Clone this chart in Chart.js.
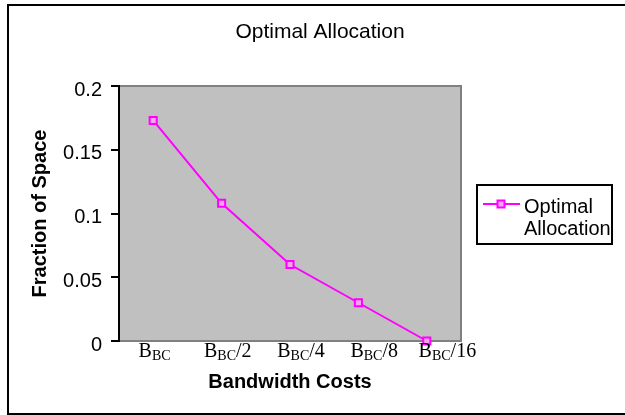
<!DOCTYPE html>
<html>
<head>
<meta charset="utf-8">
<script src="https://cdn.jsdelivr.net/npm/chart.js@4/dist/chart.umd.min.js"></script>
<style>
  html, body { margin: 0; padding: 0; background: #ffffff; }
  #wrap { width: 625px; height: 415px; }
</style>
</head>
<body>
<div id="wrap"><canvas id="c" width="625" height="415"></canvas></div>
<script>
// Categories: base letter, subscript and suffix are split when drawn ("B_BC/2" -> B, BC, /2)
const categories = ['B_BC', 'B_BC/2', 'B_BC/4', 'B_BC/8', 'B_BC/16'];
const seriesName = 'Optimal Allocation';
const seriesLegendLines = ['Optimal', 'Allocation'];
const fractionOfSpace = [0.173, 0.108, 0.060, 0.030, 0.000];
const yTicks = [0, 0.05, 0.1, 0.15, 0.2];
const chartTitle = 'Optimal Allocation';
const xTitle = 'Bandwidth Costs';
const yTitle = 'Fraction of Space';

const SANS = "'Liberation Sans', Arial, sans-serif";
const SERIF = "'Liberation Serif', 'Times New Roman', serif";
const MAGENTA = '#FF00FF';

function splitLabel(s) {
  const m = s.match(/^([^_]*)_([A-Za-z]+)(.*)$/);
  return m ? { base: m[1], sub: m[2], rest: m[3] } : { base: s, sub: '', rest: '' };
}

function drawSquareMarker(ctx, x, y) {
  ctx.save();
  ctx.fillStyle = '#f2a6f2';
  ctx.strokeStyle = MAGENTA;
  ctx.lineWidth = 2;
  ctx.fillRect(x - 3.5, y - 3.5, 7, 7);
  ctx.strokeRect(x - 3.5, y - 3.5, 7, 7);
  ctx.restore();
}

// Page frame, page title and grey plot background
const framePlugin = {
  id: 'frame',
  beforeDraw(chart) {
    const { ctx, chartArea: a } = chart;
    ctx.save();
    ctx.fillStyle = '#ffffff';
    ctx.fillRect(0, 0, chart.width, chart.height);
    ctx.strokeStyle = '#000000';
    ctx.lineWidth = 2;
    ctx.strokeRect(8, 5, 640, 409);

    ctx.fillStyle = '#000000';
    ctx.font = '21px ' + SANS;
    ctx.textAlign = 'center';
    ctx.textBaseline = 'alphabetic';
    ctx.fillText(chartTitle, 320, 37.5);

    ctx.fillStyle = '#C0C0C0';
    ctx.fillRect(a.left, a.top, a.right - a.left, a.bottom - a.top);
    ctx.strokeStyle = '#808080';
    ctx.lineWidth = 2;
    ctx.beginPath();
    ctx.moveTo(a.left, a.top);
    ctx.lineTo(a.right, a.top);
    ctx.lineTo(a.right, a.bottom);
    ctx.stroke();
    ctx.restore();
  }
};

// Category labels with subscripts, placed from the x scale's category positions
const subscriptLabels = {
  id: 'subscriptLabels',
  afterDraw(chart) {
    const { ctx, chartArea: a } = chart;
    const xs = chart.scales.x;
    const mid = (a.left + a.right) / 2;
    const mainFont = '20px ' + SERIF;
    const subFont = '14px ' + SERIF;
    const baseY = a.bottom + 16;
    ctx.save();
    ctx.fillStyle = '#000000';
    ctx.textBaseline = 'alphabetic';
    ctx.textAlign = 'left';
    categories.forEach((c, i) => {
      const p = splitLabel(c);
      ctx.font = mainFont;
      const wBase = ctx.measureText(p.base).width;
      const wRest = ctx.measureText(p.rest).width;
      ctx.font = subFont;
      const wSub = ctx.measureText(p.sub).width;
      const total = wBase + wSub + wRest;
      const cx = mid + 11 + (xs.getPixelForValue(i) - mid) * 1.07;
      let x = cx - total / 2;
      ctx.font = mainFont;
      ctx.fillText(p.base, x, baseY);
      x += wBase;
      ctx.font = subFont;
      ctx.fillText(p.sub, x, baseY + 3);
      x += wSub;
      ctx.font = mainFont;
      ctx.fillText(p.rest, x, baseY);
    });
    ctx.restore();
  }
};

// Boxed legend to the right of the plot
const boxedLegend = {
  id: 'boxedLegend',
  afterDraw(chart) {
    const { ctx } = chart;
    const ds = chart.data.datasets[0];
    const box = { x: 477, y: 185, w: 135, h: 59 };
    ctx.save();
    ctx.strokeStyle = '#000000';
    ctx.lineWidth = 2;
    ctx.strokeRect(box.x, box.y, box.w, box.h);
    ctx.strokeStyle = ds.borderColor;
    ctx.lineWidth = 2;
    ctx.beginPath();
    ctx.moveTo(box.x + 6, box.y + 19);
    ctx.lineTo(box.x + 43, box.y + 19);
    ctx.stroke();
    drawSquareMarker(ctx, box.x + 24, box.y + 19);
    ctx.fillStyle = '#000000';
    ctx.font = '20px ' + SANS;
    ctx.textAlign = 'left';
    ctx.textBaseline = 'alphabetic';
    ctx.fillText(seriesLegendLines[0], box.x + 47, box.y + 28);
    ctx.fillText(seriesLegendLines[1], box.x + 47, box.y + 50);
    ctx.restore();
  }
};

new Chart(document.getElementById('c'), {
  type: 'line',
  data: {
    labels: categories,
    datasets: [{
      label: seriesName,
      data: fractionOfSpace,
      borderColor: MAGENTA,
      borderWidth: 2,
      tension: 0,
      pointStyle: 'rect',
      pointRadius: 5,
      pointBorderWidth: 2,
      pointBorderColor: MAGENTA,
      pointBackgroundColor: '#f2a6f2',
      clip: false
    }]
  },
  options: {
    responsive: false,
    animation: false,
    layout: { padding: { top: 86, right: 164, bottom: 0, left: 0 } },
    plugins: {
      legend: { display: false },
      tooltip: { enabled: false },
      title: { display: false }
    },
    scales: {
      x: {
        type: 'category',
        offset: true,
        grid: { display: false, drawTicks: false },
        border: { display: true, color: '#808080', width: 2 },
        ticks: { display: false },
        title: {
          display: true,
          text: xTitle,
          color: '#000000',
          font: { family: SANS, size: 20, weight: 'bold' },
          padding: { top: 0, bottom: 21 }
        },
        afterFit(scale) { scale.height = 74; }
      },
      y: {
        min: 0,
        max: 0.2,
        afterBuildTicks(scale) { scale.ticks = yTicks.map(v => ({ value: v })); },
        grid: {
          drawOnChartArea: false,
          drawTicks: true,
          tickLength: 8,
          color: '#000000',
          lineWidth: 2
        },
        border: { display: true, color: '#000000', width: 2 },
        ticks: {
          color: '#000000',
          padding: 9,
          labelOffset: 4,
          font: { family: SANS, size: 20 },
          callback: (v) => String(Math.round(v * 100) / 100)
        },
        title: {
          display: true,
          text: yTitle,
          color: '#000000',
          font: { family: SANS, size: 20, weight: 'bold' },
          padding: { top: 28, bottom: 0 }
        },
        afterFit(scale) { scale.width = 119; }
      }
    }
  },
  plugins: [framePlugin, subscriptLabels, boxedLegend]
});
</script>
</body>
</html>
